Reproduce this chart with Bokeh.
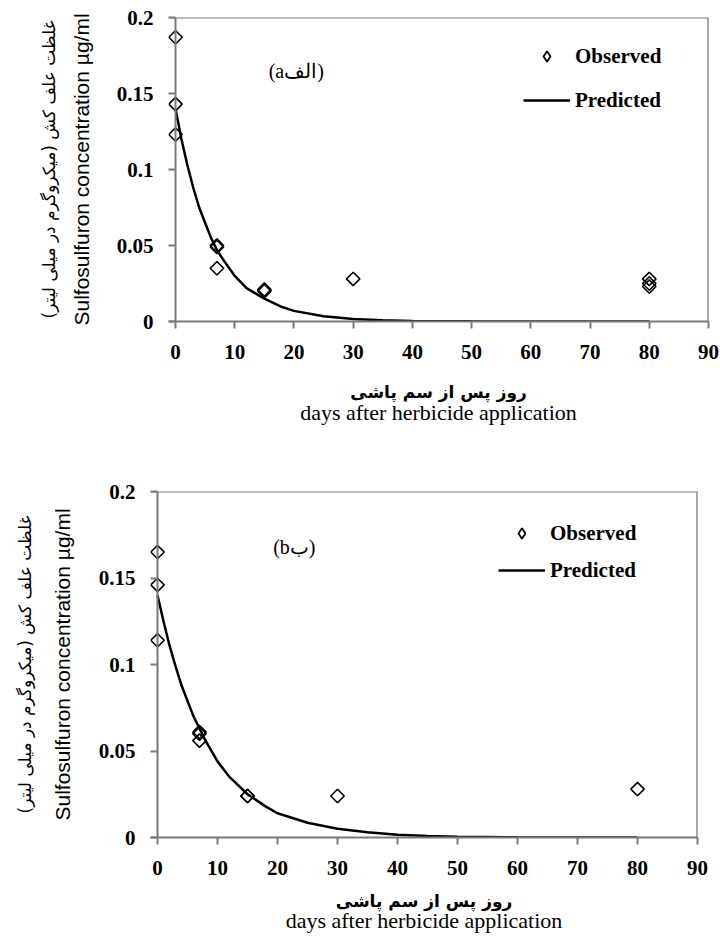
from bokeh.plotting import figure
from bokeh.models import (Range1d, LinearAxis, FixedTicker, CustomJSTickFormatter,
                          Legend, LegendItem, Span)
from bokeh.embed import file_html
from bokeh.resources import INLINE

# ---------------- data ----------------
x_ticks = [0, 10, 20, 30, 40, 50, 60, 70, 80, 90]
y_ticks = [0, 0.05, 0.1, 0.15, 0.2]

# panel (a)
days_a = [0, 0, 0, 7, 7, 7, 15, 15, 30, 80, 80, 80]
obs_a = [0.187, 0.143, 0.123, 0.050, 0.049, 0.035, 0.021, 0.020, 0.028, 0.028, 0.025, 0.023]
pred_days_a = [0, 1, 2, 3, 4, 5, 6, 7, 8, 10, 12, 15, 18, 20, 25, 30, 35, 40, 50, 60, 70, 80]
pred_a = [0.140, 0.120, 0.103, 0.088, 0.075, 0.065, 0.055, 0.047, 0.041, 0.030, 0.022,
          0.015, 0.0095, 0.007, 0.0035, 0.0016, 0.0008, 0.0004, 0.0001, 0.0, 0.0, 0.0]

# panel (b)
days_b = [0, 0, 0, 7, 7, 7, 15, 15, 30, 80]
obs_b = [0.165, 0.146, 0.114, 0.061, 0.060, 0.056, 0.024, 0.024, 0.024, 0.028]
pred_days_b = [0, 1, 2, 3, 4, 5, 6, 7, 8, 10, 12, 15, 18, 20, 25, 30, 35, 40, 45, 50, 60, 70, 80]
pred_b = [0.140, 0.125, 0.111, 0.099, 0.088, 0.079, 0.070, 0.063, 0.056, 0.044, 0.035,
          0.025, 0.018, 0.014, 0.0085, 0.005, 0.003, 0.0016, 0.0009, 0.0005, 0.0001, 0.0, 0.0]

panel_labels = ["(a\u0627\u0644\u0641)", "(b\u0628)"]
legend_labels = ["Observed", "Predicted"]
y_title_fa = "غلظت علف کش (میکروگرم در میلی لیتر)"
y_title_en = "Sulfosulfuron concentration µg/ml"
x_title_fa = "روز پس از سم پاشی"
x_title_en = "days after herbicide application"

AX = "#7a7a7a"
SERIF = "Liberation Serif"
SANS = "Liberation Sans"
FA = "DejaVu Sans"
NAN = float("nan")


def make_fig(days, obs, pdays, pred, plabel, height, px_per_unit, borders, leg_loc,
             leg_spacing, label_pos, x_std, xlab_std, en_std, y_lab_std, fa_std):
    bl, br, bt, bb = borders
    x0 = -7.0 / px_per_unit
    p = figure(width=720, height=height, output_backend="svg", toolbar_location=None,
               x_range=Range1d(x0, 90), y_range=Range1d(0, 0.2),
               min_border_left=bl, min_border_right=br, min_border_top=bt,
               min_border_bottom=bb)
    p.grid.visible = False
    p.outline_line_color = None
    p.background_fill_color = "white"
    p.border_fill_color = "white"

    # frame lines: y axis line at x=0, top and right edges
    p.add_layout(Span(location=0, dimension="height", line_color=AX, line_width=2))
    p.add_layout(Span(location=0.2, dimension="width", line_color=AX, line_width=2))
    p.add_layout(Span(location=90, dimension="height", line_color="#555555", line_width=2))

    # x axis (primary)
    xa = p.xaxis[0]
    xa.ticker = FixedTicker(ticks=x_ticks)
    xa.axis_line_color = AX
    xa.axis_line_width = 2
    xa.major_tick_line_color = AX
    xa.major_tick_line_width = 2
    xa.major_tick_in = 0
    xa.major_tick_out = 7
    xa.minor_tick_line_color = None
    xa.major_label_text_font = SERIF
    xa.major_label_text_font_style = "bold"
    xa.major_label_text_font_size = "21px"
    xa.major_label_text_color = "black"
    xa.major_label_standoff = x_std
    xa.axis_label = x_title_fa
    xa.axis_label_text_font = FA
    xa.axis_label_text_font_style = "bold"
    xa.axis_label_text_font_size = "17px"
    xa.axis_label_text_color = "black"
    xa.axis_label_standoff = xlab_std

    xa2 = LinearAxis(ticker=FixedTicker(ticks=[]), axis_label=x_title_en,
                     axis_line_color=None, major_tick_line_color=None,
                     minor_tick_line_color=None, major_tick_in=0, major_tick_out=0,
                     major_label_standoff=0, axis_label_standoff=en_std,
                     axis_label_text_font=SERIF, axis_label_text_font_style="normal",
                     axis_label_text_font_size="22px", axis_label_text_color="black")
    p.add_layout(xa2, "below")

    # y axis (primary): ticks drawn inward from frame edge up to x=0
    ya = p.yaxis[0]
    ya.ticker = FixedTicker(ticks=y_ticks)
    ya.formatter = CustomJSTickFormatter(code="return String(Math.round(tick*100)/100)")
    ya.axis_line_color = None
    ya.major_tick_line_color = AX
    ya.major_tick_line_width = 2
    ya.major_tick_in = 7
    ya.major_tick_out = 0
    ya.minor_tick_line_color = None
    ya.major_label_text_font = SERIF
    ya.major_label_text_font_style = "bold"
    ya.major_label_text_font_size = "21px"
    ya.major_label_text_color = "black"
    ya.major_label_standoff = 15
    ya.axis_label = y_title_en
    ya.axis_label_text_font = SANS
    ya.axis_label_text_font_style = "normal"
    ya.axis_label_text_font_size = "21px"
    ya.axis_label_text_color = "black"
    ya.axis_label_standoff = y_lab_std

    ya2 = LinearAxis(ticker=FixedTicker(ticks=[]), axis_label=y_title_fa,
                     axis_line_color=None, major_tick_line_color=None,
                     minor_tick_line_color=None, major_tick_in=0, major_tick_out=0,
                     major_label_standoff=0, axis_label_standoff=fa_std,
                     axis_label_text_font=FA, axis_label_text_font_style="normal",
                     axis_label_text_font_size="17px", axis_label_text_color="black")
    p.add_layout(ya2, "left")

    # data
    r_line = p.line(pdays, pred, line_color="black", line_width=2.5)
    p.scatter(days, obs, marker="square", angle=0.785398, size=9.5,
              line_color="black", line_width=1.6, fill_color=None)
    # legend proxy for the diamond marker (legend ignores marker angle); not drawn in plot
    r_leg = p.scatter(x=[NAN], y=[NAN], marker="diamond", size=12, line_color="black",
                      line_width=1.8, fill_color=None)

    p.text(x=[label_pos[0]], y=[label_pos[1]], text=[plabel], text_font=SERIF,
           text_font_size="20px", text_align="center", text_baseline="middle",
           text_color="black")

    legend = Legend(items=[LegendItem(label=legend_labels[0], renderers=[r_leg]),
                           LegendItem(label=legend_labels[1], renderers=[r_line])],
                    location=leg_loc)
    legend.border_line_color = None
    legend.background_fill_alpha = 0
    legend.padding = 0
    legend.margin = 0
    legend.glyph_width = 47
    legend.glyph_height = 26
    legend.label_height = 26
    legend.label_standoff = 5
    legend.spacing = leg_spacing
    legend.label_text_font = SERIF
    legend.label_text_font_style = "bold"
    legend.label_text_font_size = "21px"
    legend.label_text_color = "black"
    p.add_layout(legend)
    return p


pa = make_fig(days_a, obs_a, pred_days_a, pred_a, panel_labels[0], 462, 533 / 90.0,
              (168, 12, 17, 141), (355, 208), 18, (20.4, 0.165), 16, 20, -5, 21, 8)
pb = make_fig(days_b, obs_b, pred_days_b, pred_b, panel_labels[1], 480, 6.0,
              (150, 23, 29, 105), (348, 254), 11, (22.8, 0.168), 16, 13, -6, 22, 13)

open("out.html", "w").write(file_html([pa, pb], INLINE))
